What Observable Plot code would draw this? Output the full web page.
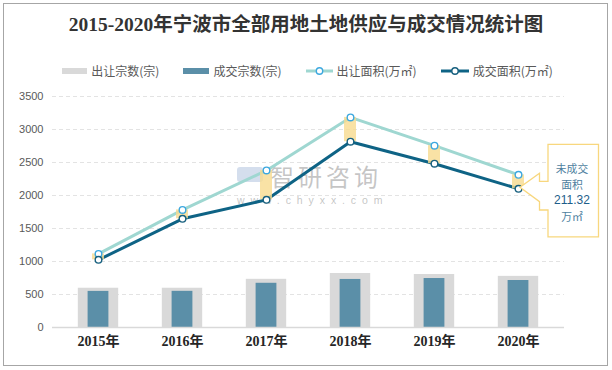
<!DOCTYPE html>
<html><head><meta charset="utf-8">
<script src="https://cdn.jsdelivr.net/npm/d3@7"></script>
<script src="https://cdn.jsdelivr.net/npm/@observablehq/plot@0.6"></script>
<style>
body{margin:0;background:#fff;}
#root{position:relative;width:612px;height:370px;overflow:hidden;background:#fff;font-family:"Noto Sans CJK SC",sans-serif;}
#frame{position:absolute;left:3px;top:3px;border:1px solid #a6a6a6;box-sizing:border-box;width:605px;height:363px;}
#title{position:absolute;left:0;width:612px;top:11px;text-align:center;font-weight:bold;font-size:19.5px;font-family:"Liberation Serif","Noto Sans CJK SC",serif;color:#333;line-height:28px;white-space:nowrap;}
#legend{position:absolute;left:0;width:615px;top:62px;height:18px;display:flex;justify-content:center;align-items:center;gap:24px;font-size:12px;color:#595959;line-height:18px;}
#legend .item{display:flex;align-items:center;gap:4px;white-space:nowrap;}
#wm{position:absolute;left:236px;top:160px;width:150px;height:50px;}
#wm .cn{position:absolute;left:34px;top:2px;font-size:24px;line-height:28px;height:28px;color:rgba(140,140,140,0.5);letter-spacing:4px;white-space:nowrap;}
#wm .en{position:absolute;left:1px;top:34px;font-size:10.5px;line-height:12px;height:12px;color:rgba(140,140,140,0.5);letter-spacing:5.9px;white-space:nowrap;font-family:"Liberation Sans",sans-serif;}
#wm .ic{position:absolute;left:1px;top:7px;width:26px;height:15px;background:rgba(170,190,220,0.5);border-radius:3px;}
#chart{position:absolute;left:0;top:86px;}
</style></head>
<body>
<div id="root">
  <div id="frame"></div>
  <div id="title"></div>
  <div id="legend"></div>
  <div id="wm"><div class="ic"></div><div class="cn">智研咨询</div><div class="en">www.chyxx.com</div></div>
  <div id="chart"></div>
</div>
<script>
const titleText = "2015-2020年宁波市全部用地土地供应与成交情况统计图";
const years = ["2015年","2016年","2017年","2018年","2019年","2020年"];
const supplyCount = [595, 595, 730, 818, 803, 775];      // 出让宗数(宗)
const dealCount = [547, 548, 670, 728, 742, 712];        // 成交宗数(宗)
const supplyArea = [1115, 1782, 2380, 3183, 2755, 2313]; // 出让面积(万㎡)
const dealArea = [1025, 1647, 1935, 2815, 2482, 2101.68];// 成交面积(万㎡)
const yTicks = [0, 500, 1000, 1500, 2000, 2500, 3000, 3500];
const seriesNames = ["出让宗数(宗)", "成交宗数(宗)", "出让面积(万㎡)", "成交面积(万㎡)"];
const calloutYear = "2020年";
const calloutLines = ["未成交", "面积", "211.32", "万㎡"];

const C = {supplyBar:"#d9d9d9", dealBar:"#5b8fa8", supplyLine:"#9fd7d1", dealLine:"#0e6385",
           supplyDot:"#3da8df", dealDot:"#17607f", gap:"#f7db8f"};

document.getElementById("title").textContent = titleText;

// legend
const legend = document.getElementById("legend");
const swatches = [
  `<svg width="25" height="8"><rect x="0" y="1" width="25" height="6" fill="${C.supplyBar}"/></svg>`,
  `<svg width="26" height="8"><rect x="0" y="1" width="26" height="6" fill="${C.dealBar}"/></svg>`,
  `<svg width="27" height="10"><line x1="0" x2="27" y1="5" y2="5" stroke="${C.supplyLine}" stroke-width="3"/><circle cx="13.5" cy="5" r="3.2" fill="#fff" stroke="${C.supplyDot}" stroke-width="1.4"/></svg>`,
  `<svg width="28" height="10"><line x1="0" x2="28" y1="5" y2="5" stroke="${C.dealLine}" stroke-width="3"/><circle cx="14" cy="5" r="3.2" fill="#fff" stroke="${C.dealDot}" stroke-width="1.4"/></svg>`
];
seriesNames.forEach((n,i)=>{
  const d = document.createElement("div");
  d.className = "item";
  d.innerHTML = swatches[i] + `<span>${n}</span>`;
  legend.appendChild(d);
});

const rows = years.map((y,i)=>({year:y, sc:supplyCount[i], dc:dealCount[i], sa:supplyArea[i], da:dealArea[i]}));
const labelFont = "Liberation Serif, Noto Sans CJK SC, serif";

const chart = Plot.plot({
  width: 612, height: 280,
  marginTop: 10, marginBottom: 39, marginLeft: 52, marginRight: 48,
  style: {background: "transparent", overflow: "visible"},
  x: {type: "band", domain: years, paddingInner: 0, paddingOuter: 0.04, axis: null},
  y: {domain: [0, 3500], axis: null},
  marks: [
    Plot.ruleY(yTicks.filter(d => d > 0), {stroke: "#e3e3e3", strokeDasharray: "4,3"}),
    Plot.barY(rows, {x: "year", y: "sc", fill: C.supplyBar, insetLeft: 21.8, insetRight: 21.8}),
    Plot.barY(rows, {x: "year", y: "dc", fill: C.dealBar, insetLeft: 31.6, insetRight: 31.6}),
    Plot.ruleY([0], {stroke: "#d9d9d9", strokeWidth: 1.3}),
    Plot.line(rows, {x: "year", y: "sa", stroke: C.supplyLine, strokeWidth: 3}),
    Plot.line(rows, {x: "year", y: "da", stroke: C.dealLine, strokeWidth: 3}),
    Plot.barY(rows, {x: "year", y1: "da", y2: "sa", fill: C.gap, fillOpacity: 0.8, insetLeft: 36, insetRight: 36}),
    Plot.dot(rows, {x: "year", y: "sa", r: 3.3, fill: "#fff", stroke: C.supplyDot, strokeWidth: 1.4}),
    Plot.dot(rows, {x: "year", y: "da", r: 3.3, fill: "#fff", stroke: C.dealDot, strokeWidth: 1.4}),
    Plot.text(yTicks, {y: d => d, frameAnchor: "left", dx: -9, textAnchor: "end", text: d => String(d),
      fontSize: 11, fill: "#595959", fontFamily: "Liberation Sans, sans-serif"}),
    Plot.text(years, {x: d => d, frameAnchor: "bottom", dy: 18, text: d => d, fontSize: 14, fontWeight: "bold",
      fill: "#262626", fontFamily: labelFont})
  ]
});
document.getElementById("chart").appendChild(chart);

// callout anchored to the 2020 data point via the chart's scales
const xs = chart.scale("x"), ys = chart.scale("y");
const ci = years.indexOf(calloutYear);
const cx = xs.apply(calloutYear) + xs.bandwidth / 2;
const yT = ys.apply(dealArea[ci]);
const L = cx + 30, R = cx + 80.5, T = yT - 44, B = yT + 48.5, nx = cx + 21.5;
const n1 = yT - 15, n2 = yT - 7, n3 = yT + 13.4, n4 = yT + 21.7, tx = cx + 2, ty = yT - 1;
const g = d3.select(chart).append("g");
g.append("path")
  .attr("d", `M${L},${T}H${R}V${B}H${L}V${n4}H${nx}V${n3}L${tx},${ty}L${nx},${n1}V${n2}H${L}Z`)
  .attr("fill", "#fff").attr("stroke", "#f8d77e").attr("stroke-width", 1.3);
const tcx = cx + 54;
const offs = [-20, -4, 12, 27.5];
calloutLines.forEach((t,i)=>{
  g.append("text").attr("x", tcx).attr("y", yT + offs[i]).attr("text-anchor", "middle")
    .attr("dominant-baseline", "central")
    .attr("font-family", i === 2 ? "Liberation Sans, sans-serif" : "Noto Sans CJK SC, sans-serif")
    .attr("font-size", i === 2 ? 12 : 10.8)
    .attr("fill", i === 2 ? "#1d5e8a" : "#4f7fa0")
    .text(t);
});
</script>
</body></html>
